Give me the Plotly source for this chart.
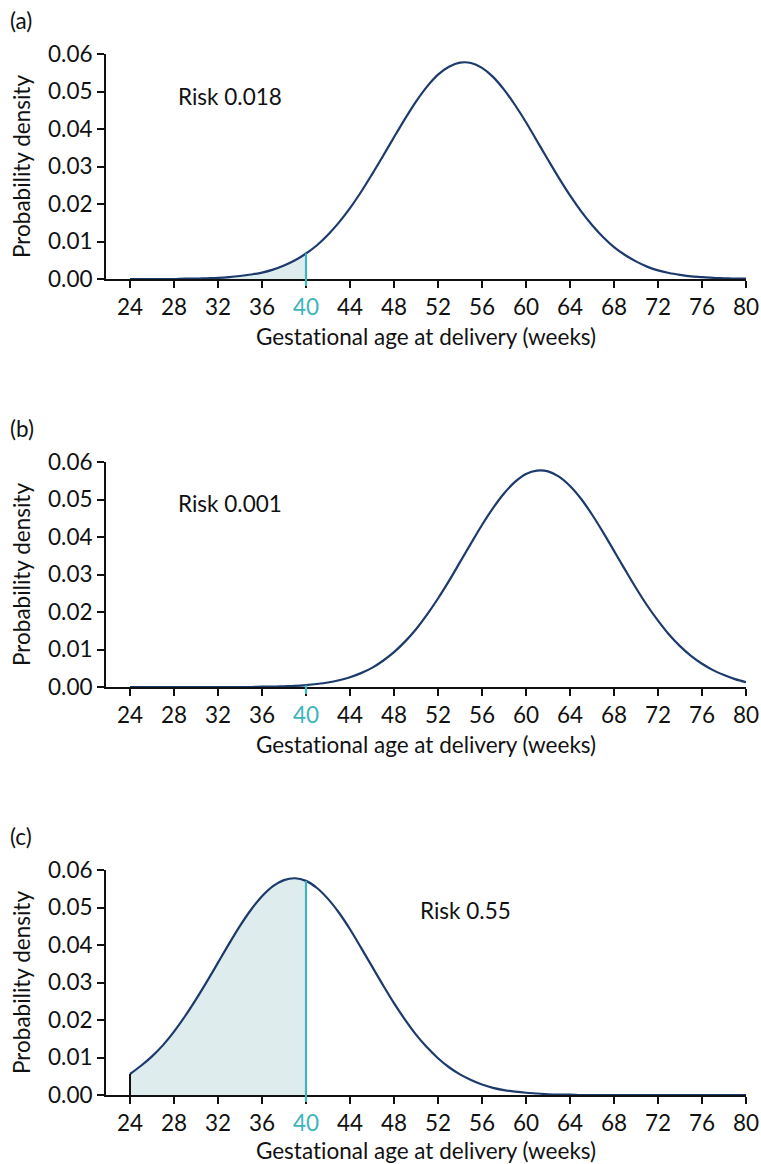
import plotly.graph_objects as go

# Gestational age (weeks) grid, 24..80 in 1-week steps
weeks = list(range(24, 81))

# Probability density (one value per week)
dens_a = [0.0000, 0.0000, 0.0000, 0.0000, 0.0000, 0.0001, 0.0001, 0.0002, 0.0003, 0.0005,
          0.0008, 0.0012, 0.0017, 0.0025, 0.0036, 0.0050, 0.0068, 0.0090, 0.0118, 0.0151,
          0.0189, 0.0232, 0.0279, 0.0328, 0.0378, 0.0427, 0.0473, 0.0513, 0.0545, 0.0566,
          0.0577, 0.0576, 0.0563, 0.0539, 0.0505, 0.0464, 0.0418, 0.0368, 0.0318, 0.0269,
          0.0223, 0.0181, 0.0144, 0.0112, 0.0085, 0.0064, 0.0047, 0.0033, 0.0023, 0.0016,
          0.0011, 0.0007, 0.0005, 0.0003, 0.0002, 0.0001, 0.0001]
dens_b = [0.0000, 0.0000, 0.0000, 0.0000, 0.0000, 0.0000, 0.0000, 0.0000, 0.0000, 0.0000,
          0.0000, 0.0000, 0.0001, 0.0001, 0.0002, 0.0003, 0.0005, 0.0008, 0.0012, 0.0018,
          0.0026, 0.0037, 0.0051, 0.0070, 0.0093, 0.0121, 0.0154, 0.0193, 0.0236, 0.0283,
          0.0333, 0.0383, 0.0432, 0.0477, 0.0516, 0.0547, 0.0568, 0.0577, 0.0575, 0.0561,
          0.0536, 0.0502, 0.0460, 0.0413, 0.0363, 0.0313, 0.0264, 0.0218, 0.0177, 0.0140,
          0.0109, 0.0083, 0.0062, 0.0045, 0.0032, 0.0021, 0.0013]
dens_c = [0.0056, 0.0078, 0.0103, 0.0133, 0.0169, 0.0210, 0.0255, 0.0303, 0.0353, 0.0403,
          0.0451, 0.0494, 0.0530, 0.0557, 0.0573, 0.0578, 0.0571, 0.0552, 0.0523, 0.0486,
          0.0442, 0.0393, 0.0343, 0.0293, 0.0245, 0.0201, 0.0161, 0.0127, 0.0098, 0.0074,
          0.0055, 0.0040, 0.0028, 0.0019, 0.0013, 0.0009, 0.0006, 0.0004, 0.0002, 0.0001,
          0.0001, 0.0000, 0.0000, 0.0000, 0.0000, 0.0000, 0.0000, 0.0000, 0.0000, 0.0000,
          0.0000, 0.0000, 0.0000, 0.0000, 0.0000, 0.0000, 0.0000]

panel_labels = ["(a)", "(b)", "(c)"]
risk_labels = ["Risk 0.018", "Risk 0.001", "Risk 0.55"]
risk_x = [28.15, 28.15, 50.2]
risk_y = [0.0488, 0.0490, 0.0492]
cutoff = 40
x_ticks = [24, 28, 32, 36, 40, 44, 48, 52, 56, 60, 64, 68, 72, 76, 80]
y_ticks = [0.00, 0.01, 0.02, 0.03, 0.04, 0.05, 0.06]
x_title = "Gestat\u200cional age at delivery (weeks)"
y_title = "Probability density"

NAVY = "#1d3a6c"
TEAL = "#3db5bd"
FILL = "#deeced"
INK = "#111111"
FONT = "Lato"
FS = 22.5

W, H = 761, 1164
ML, MR = 106, 15
PW = W - ML - MR
# plot areas in pixels (top, bottom)
areas = [(54, 279), (462, 687), (870, 1095)]
TICKLEN = 7

fig = go.Figure()
series = [dens_a, dens_b, dens_c]

ticktext = [f'<span style="color:{TEAL}">{t}</span>' if t == cutoff else str(t) for t in x_ticks]

for i, dens in enumerate(series):
    n = i + 1
    xa = "x" if n == 1 else f"x{n}"
    ya = "y" if n == 1 else f"y{n}"
    top, bot = areas[i]
    dom = [1 - bot / H, 1 - top / H]

    # shaded area up to the cutoff
    xs = [w for w in weeks if w <= cutoff]
    ys = [d for w, d in zip(weeks, dens) if w <= cutoff]
    fig.add_trace(go.Scatter(x=xs, y=ys, mode="lines", line=dict(width=0, shape="spline"),
                             fill="tozeroy", fillcolor=FILL, xaxis=xa, yaxis=ya,
                             showlegend=False, hoverinfo="skip"))
    # curve
    fig.add_trace(go.Scatter(x=weeks, y=dens, mode="lines",
                             line=dict(color=NAVY, width=2.2, shape="spline", smoothing=1.0),
                             xaxis=xa, yaxis=ya, showlegend=False, cliponaxis=False))

    ph = bot - top
    yd = "y domain" if n == 1 else f"y{n} domain"
    v40 = dens[weeks.index(cutoff)]
    fig.add_shape(type="line", xref=xa, yref=yd, x0=cutoff, x1=cutoff,
                  y0=-TICKLEN / ph, y1=v40 / 0.06, line=dict(color=TEAL, width=2.2), layer="above")
    if i == 2:
        v24 = dens[0]
        fig.add_shape(type="line", xref=xa, yref=yd, x0=weeks[0], x1=weeks[0],
                      y0=-TICKLEN / ph, y1=v24 / 0.06, line=dict(color=INK, width=2), layer="above")

    axis_common = dict(showgrid=False, zeroline=False, showline=True, linecolor=INK,
                       linewidth=2, ticks="outside", ticklen=TICKLEN, tickwidth=2,
                       tickcolor=INK, automargin=False,
                       tickfont=dict(family=FONT, size=FS, color=INK))
    fig.update_layout(**{
        ("xaxis" if n == 1 else f"xaxis{n}"): dict(
            axis_common, domain=[0, 1], anchor=ya, range=[24 - 24 / 11, 80],
            tickmode="array", tickvals=x_ticks, ticktext=ticktext,
            title=dict(text=x_title, font=dict(family=FONT, size=FS, color=INK), standoff=10)),
        ("yaxis" if n == 1 else f"yaxis{n}"): dict(
            axis_common, domain=dom, anchor=xa, range=[0, 0.06],
            tickmode="array", tickvals=y_ticks, ticktext=[f"{v:.2f}" for v in y_ticks],
            title=dict(text=y_title, font=dict(family=FONT, size=FS, color=INK), standoff=11)),
    })

    fig.add_annotation(text=panel_labels[i], xref="paper", yref="paper",
                       x=(8 - ML) / PW, y=1 - (top - 34) / H,
                       xanchor="left", yanchor="middle", showarrow=False,
                       font=dict(family=FONT, size=FS, color=INK))
    fig.add_annotation(text=risk_labels[i], xref=xa, yref=ya, x=risk_x[i], y=risk_y[i],
                       xanchor="left", yanchor="middle", showarrow=False,
                       font=dict(family=FONT, size=FS, color=INK))

fig.update_layout(template="none", width=W, height=H,
                  margin=dict(l=ML, r=MR, t=0, b=0, autoexpand=False),
                  plot_bgcolor="white", paper_bgcolor="white",
                  font=dict(family=FONT, size=FS, color=INK))

fig.write_html("out.html", config={"displayModeBar": False},
               post_script="document.body.style.margin='0';")
